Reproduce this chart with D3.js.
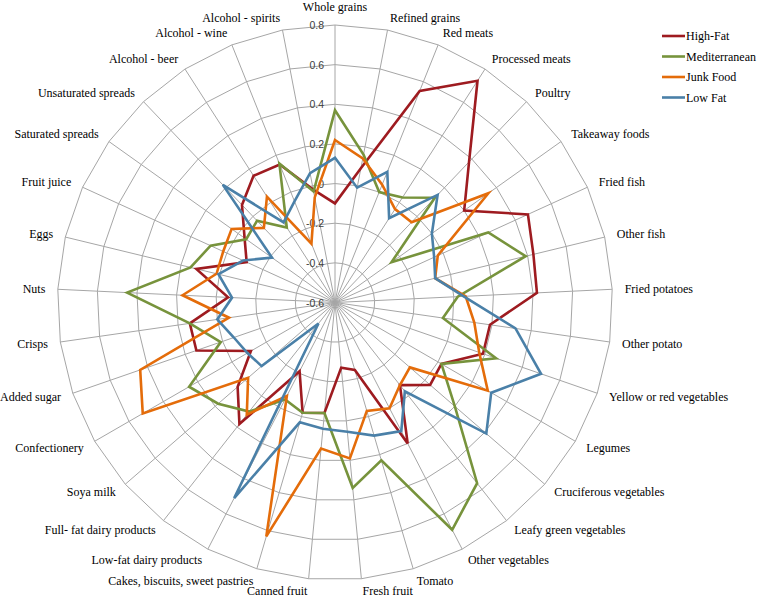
<!DOCTYPE html>
<html>
<head>
<meta charset="utf-8">
<script src="https://cdn.jsdelivr.net/npm/d3@7"></script>
<style>
  html, body { margin: 0; padding: 0; background: #ffffff; }
  svg { display: block; }
</style>
</head>
<body>
<svg id="chart" width="757" height="597"></svg>
<script>
// ---------------- data ----------------
const categories = [
  "Whole grains", "Refined grains", "Red meats", "Processed meats", "Poultry",
  "Takeaway foods", "Fried fish", "Other fish", "Fried potatoes", "Other potato",
  "Yellow or red vegetables", "Legumes", "Cruciferous vegetables", "Leafy green vegetables",
  "Other vegetables", "Tomato", "Fresh fruit", "Canned fruit", "Cakes, biscuits, sweet pastries",
  "Low-fat dairy products", "Full- fat dairy products", "Soya milk", "Confectionery",
  "Added sugar", "Crisps", "Nuts", "Eggs", "Fruit juice", "Saturated spreads",
  "Unsaturated spreads", "Alcohol - beer", "Alcohol - wine", "Alcohol - spirits"
];

const seriesNames = ["High-Fat", "Mediterranean", "Junk Food", "Low Fat"];

const highFat = [
  -0.10, 0.09, 0.55, 0.73, 0.38, 0.20, 0.47, 0.43, 0.42, 0.19,
  0.19, 0.02, 0.035, -0.07, 0.20, -0.245, -0.27, -0.04, -0.02, -0.21,
  0.18, 0.05, -0.11, 0.14, 0.14, -0.06, 0.12, -0.11, -0.04, 0.08,
  0.16, 0.15, -0.02
];

const mediterranean = [
  0.37, 0.16, 0.00, 0.03, 0.13, -0.25, 0.25, 0.39, 0.02, -0.05,
  0.26, 0.02, 0.20, 0.56, 0.69, 0.23, 0.34, -0.04, -0.02, -0.05,
  0.10, 0.18, 0.25, 0.01, 0.14, 0.45, 0.15, 0.09, -0.05, -0.03,
  -0.15, 0.155, -0.03
];

const junkFood = [
  0.22, 0.14, 0.04, -0.04, -0.04, 0.35, -0.03, -0.08, 0.06, 0.11,
  0.17, 0.29, -0.10, -0.07, 0.00, -0.03, 0.19, 0.14, 0.63, -0.07,
  0.12, -0.02, 0.52, 0.44, -0.06, 0.17, 0.015, 0.02, 0.04, -0.08,
  0.035, -0.28, -0.06
];

const lowFat = [
  0.13, -0.01, 0.11, -0.095, 0.15, 0.00, -0.05, -0.08, 0.05, 0.32,
  0.50, 0.31, 0.41, -0.03, 0.13, 0.10, 0.055, 0.04, 0.03, 0.51,
  -0.465, -0.11, -0.09, -0.06, 0.00, -0.08, 0.005, -0.09, -0.21, 0.22,
  -0.12, -0.05, 0.065
];

const tickValues = [-0.6, -0.4, -0.2, 0, 0.2, 0.4, 0.6, 0.8];
const tickLabels = ["-0.6", "-0.4", "-0.2", "0", "0.2", "0.4", "0.6", "0.8"];

// ---------------- drawing ----------------
const colors = ["#9E1B20", "#77933C", "#E46C0A", "#4A80A8"];
const seriesValues = [highFat, mediterranean, junkFood, lowFat];

const svg = d3.select("#chart");
const cx = 335, cy = 302.5, R = 277.5;
const n = categories.length;

const r = d3.scaleLinear().domain([-0.6, 0.8]).range([0, R]);
const angle = d3.scaleLinear().domain([0, n]).range([0, 2 * Math.PI]);

const g = svg.append("g").attr("transform", `translate(${cx},${cy})`);

function pt(i, rad) {
  const a = angle(i);
  return [rad * Math.sin(a), -rad * Math.cos(a)];
}

// grid rings (polygons)
const gridG = g.append("g").attr("class", "grid");
tickValues.filter(v => v > -0.6).forEach(v => {
  const pts = d3.range(n).map(i => pt(i, r(v)));
  gridG.append("path")
    .attr("d", d3.line()(pts) + "Z")
    .attr("fill", "none")
    .attr("stroke", "#a6a6a6")
    .attr("stroke-width", 1);
});
// spokes
d3.range(n).forEach(i => {
  const p = pt(i, R);
  gridG.append("line")
    .attr("x1", 0).attr("y1", 0)
    .attr("x2", p[0]).attr("y2", p[1])
    .attr("stroke", "#a6a6a6")
    .attr("stroke-width", 1);
});

// tick labels
g.append("g").selectAll("text")
  .data(tickValues)
  .join("text")
  .attr("x", -11)
  .attr("y", d => -r(d))
  .attr("text-anchor", "end")
  .attr("dominant-baseline", "central")
  .attr("font-family", "Liberation Sans, Arial, sans-serif")
  .attr("font-size", "10.5px")
  .attr("fill", "#404040")
  .text((d, i) => tickLabels[i]);

// category labels
const labelR = R + 12.5;
g.append("g").selectAll("text")
  .data(categories)
  .join("text")
  .each(function (d, i) {
    const a = angle(i);
    const s = Math.sin(a);
    const p = pt(i, labelR);
    const t = d3.select(this);
    if (Math.abs(s) < 1e-6) {
      t.attr("x", p[0]).attr("y", p[1] - 6).attr("text-anchor", "middle");
    } else {
      t.attr("x", p[0]).attr("y", p[1]).attr("text-anchor", s > 0 ? "start" : "end");
    }
  })
  .attr("dominant-baseline", "central")
  .attr("font-family", "Liberation Serif, Times New Roman, serif")
  .attr("font-size", "12px")
  .attr("fill", "#000")
  .text(d => d);

// series
const radial = d3.lineRadial()
  .angle((d, i) => angle(i))
  .radius(d => r(d))
  .curve(d3.curveLinearClosed);

g.append("g").selectAll("path")
  .data(seriesValues)
  .join("path")
  .attr("d", d => radial(d))
  .attr("fill", "none")
  .attr("stroke", (d, i) => colors[i])
  .attr("stroke-width", 2.6)
  .attr("stroke-linejoin", "miter");

// legend
const legend = svg.append("g").attr("transform", "translate(662,36)");
seriesNames.forEach((name, i) => {
  const row = legend.append("g").attr("transform", `translate(0,${i * 20.5})`);
  row.append("line")
    .attr("x1", 0).attr("x2", 23).attr("y1", 0).attr("y2", 0)
    .attr("stroke", colors[i]).attr("stroke-width", 2.6);
  row.append("text")
    .attr("x", 24).attr("y", 0)
    .attr("dominant-baseline", "central")
    .attr("font-family", "Liberation Serif, Times New Roman, serif")
    .attr("font-size", "12px")
    .attr("fill", "#000")
    .text(name);
});
</script>
</body>
</html>
